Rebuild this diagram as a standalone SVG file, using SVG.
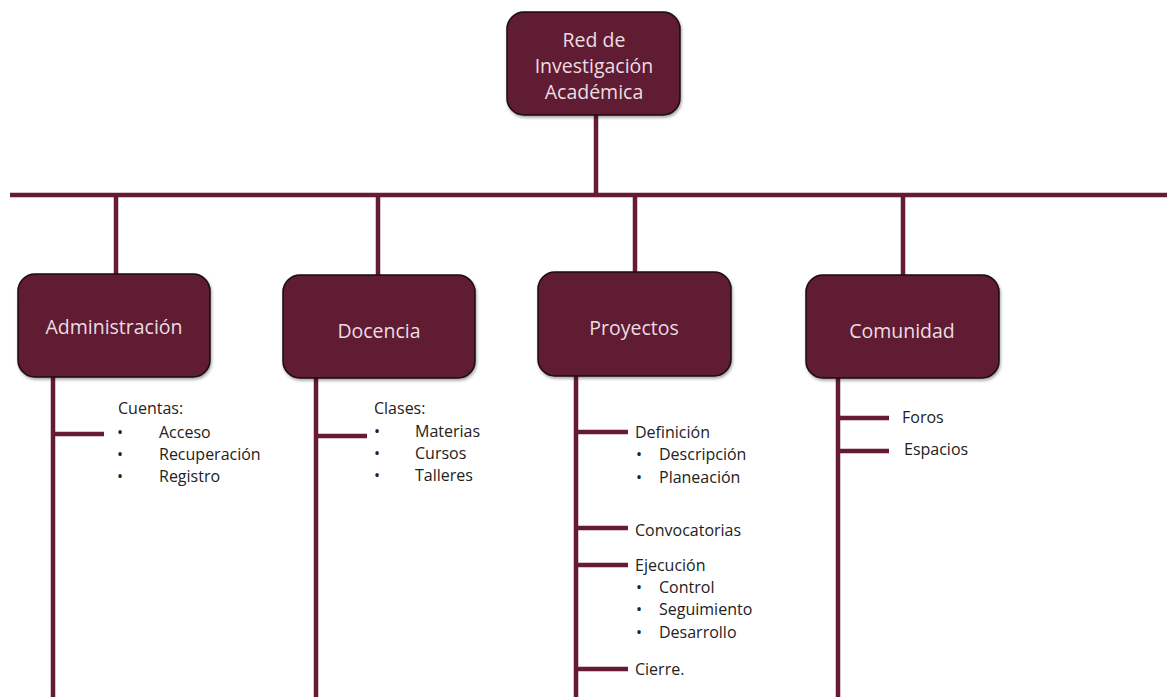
<svg xmlns="http://www.w3.org/2000/svg" width="1167" height="697" viewBox="0 0 1167 697">
  <style>
    .box { fill: #5e1a30; stroke: #1a0a10; stroke-width: 1.5; }
    .lbl { font-family: "Open Sans", "Liberation Sans", sans-serif; font-size: 19.5px; fill: #eddde2; text-anchor: middle; }
    .ln { stroke: #661a35; stroke-width: 4.5; fill: none; }
    .item { font-family: "Open Sans", "Liberation Sans", sans-serif; font-size: 16px; fill: #222; }
  </style>
  <defs>
    <filter id="sh" x="-10%" y="-10%" width="130%" height="130%">
      <feDropShadow dx="1" dy="2" stdDeviation="1.5" flood-color="#000" flood-opacity="0.35"/>
    </filter>
  </defs>
  <rect width="1167" height="697" fill="#fff"/>

  <!-- connectors -->
  <g id="connectors" class="ln">
    <line x1="596" y1="114" x2="596" y2="195"/>
    <line x1="10" y1="195" x2="1167" y2="195"/>
    <line x1="116" y1="195" x2="116" y2="274"/>
    <line x1="378" y1="195" x2="378" y2="275"/>
    <line x1="635" y1="195" x2="635" y2="272"/>
    <line x1="903" y1="195" x2="903" y2="275"/>
    <!-- Administración -->
    <line x1="53" y1="377" x2="53" y2="697"/>
    <line x1="53" y1="434" x2="104" y2="434"/>
    <!-- Docencia -->
    <line x1="316" y1="378" x2="316" y2="697"/>
    <line x1="316" y1="436" x2="367" y2="436"/>
    <!-- Proyectos -->
    <line x1="576" y1="376" x2="576" y2="697"/>
    <line x1="576" y1="432" x2="628" y2="432"/>
    <line x1="576" y1="528" x2="628" y2="528"/>
    <line x1="576" y1="565" x2="628" y2="565"/>
    <line x1="576" y1="669" x2="628" y2="669"/>
    <!-- Comunidad -->
    <line x1="838" y1="378" x2="838" y2="697"/>
    <line x1="838" y1="418" x2="889" y2="418"/>
    <line x1="838" y1="451" x2="889" y2="451"/>
  </g>

  <g id="root">
    <rect class="box" x="507" y="12" width="173" height="103" rx="17" filter="url(#sh)"/>
    <text class="lbl" x="594" y="47">Red de</text>
    <text class="lbl" x="594" y="73">Investigación</text>
    <text class="lbl" x="594" y="99">Académica</text>
  </g>

  <g id="administracion">
    <rect class="box" x="18" y="274" width="192" height="103" rx="17" filter="url(#sh)"/>
    <text class="lbl" x="114" y="334">Administración</text>
  </g>

  <g id="docencia">
    <rect class="box" x="283" y="275" width="192" height="103" rx="17" filter="url(#sh)"/>
    <text class="lbl" x="379" y="338">Docencia</text>
  </g>

  <g id="proyectos">
    <rect class="box" x="538" y="272" width="193" height="104" rx="17" filter="url(#sh)"/>
    <text class="lbl" x="634" y="335">Proyectos</text>
  </g>

  <g id="comunidad">
    <rect class="box" x="806" y="275" width="193" height="103" rx="17" filter="url(#sh)"/>
    <text class="lbl" x="902" y="338">Comunidad</text>
  </g>

  <g id="admin-items" class="item">
    <text x="118" y="414">Cuentas:</text>
    <text x="117" y="438">•</text><text x="159" y="438">Acceso</text>
    <text x="117" y="460">•</text><text x="159" y="460">Recuperación</text>
    <text x="117" y="482">•</text><text x="159" y="482">Registro</text>
  </g>

  <g id="docencia-items" class="item">
    <text x="374" y="414">Clases:</text>
    <text x="374" y="437">•</text><text x="415" y="437">Materias</text>
    <text x="374" y="459">•</text><text x="415" y="459">Cursos</text>
    <text x="374" y="481">•</text><text x="415" y="481">Talleres</text>
  </g>

  <g id="proyectos-items" class="item">
    <text x="635" y="438">Definición</text>
    <text x="636" y="460">•</text><text x="659" y="460">Descripción</text>
    <text x="636" y="483">•</text><text x="659" y="483">Planeación</text>
    <text x="635" y="536">Convocatorias</text>
    <text x="635" y="571">Ejecución</text>
    <text x="636" y="593">•</text><text x="659" y="593">Control</text>
    <text x="636" y="615">•</text><text x="659" y="615">Seguimiento</text>
    <text x="636" y="638">•</text><text x="659" y="638">Desarrollo</text>
    <text x="635" y="675">Cierre.</text>
  </g>

  <g id="comunidad-items" class="item">
    <text x="902" y="423">Foros</text>
    <text x="904" y="455">Espacios</text>
  </g>
</svg>
